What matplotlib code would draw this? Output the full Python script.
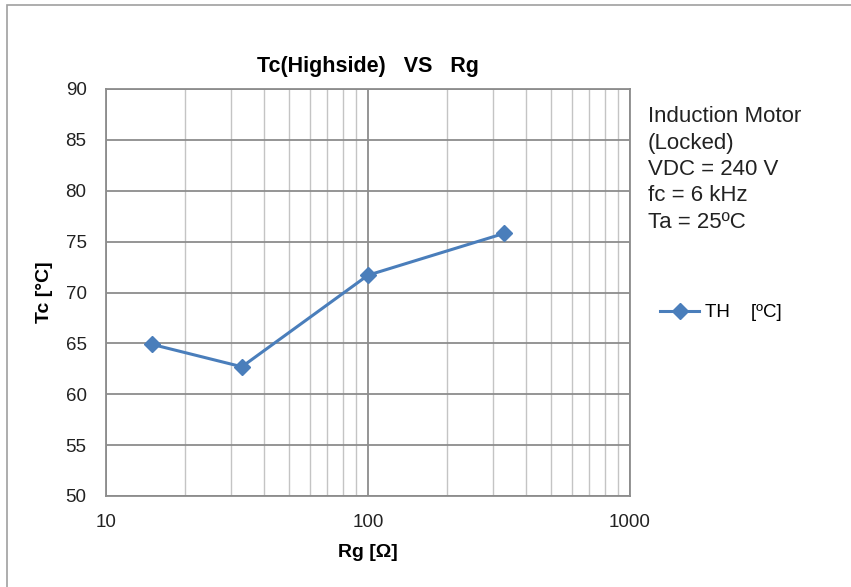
import matplotlib
matplotlib.use("Agg")
import matplotlib.pyplot as plt
from matplotlib.patches import Rectangle
from matplotlib.ticker import FixedLocator, NullFormatter

# data
rg = [15, 33, 100, 330]
tc = [64.9, 62.7, 71.7, 75.8]
x_ticks = [10, 100, 1000]
y_ticks = [50, 55, 60, 65, 70, 75, 80, 85, 90]
notes = ["Induction Motor", "(Locked)", "VDC = 240 V", "fc = 6 kHz", "Ta = 25ºC"]

plt.rcParams['font.family'] = ['Liberation Sans', 'DejaVu Sans']

fig = plt.figure(figsize=(8.51, 5.87), dpi=100)
ax = fig.add_axes([106 / 851, 1 - 496 / 587, 524 / 851, 407 / 587])

# outer chart frame
fig.patches.append(Rectangle((7 / 851, -0.1), 1.1, 1 - 5 / 587 + 0.1,
                             transform=fig.transFigure, fill=False,
                             edgecolor='#a0a0a0', linewidth=1.2))

ax.set_xscale('log')
ax.set_xlim(10, 1000)
ax.set_ylim(50, 90)
ax.set_xticks(x_ticks)
ax.set_xticklabels([str(t) for t in x_ticks])
ax.xaxis.set_minor_locator(FixedLocator([m * d for d in (10, 100) for m in range(2, 10)]))
ax.xaxis.set_minor_formatter(NullFormatter())
ax.set_yticks(y_ticks)

ax.grid(which='major', color='#8c8c8c', linewidth=1.3)
ax.grid(which='minor', axis='x', color='#c4c4c4', linewidth=1.0)
ax.set_axisbelow(True)
for s in ax.spines.values():
    s.set_color('#8c8c8c')
    s.set_linewidth(1.3)
ax.tick_params(which='both', length=0, labelsize=13.5, colors='#222222')
ax.tick_params(axis='x', pad=13)
ax.tick_params(axis='y', pad=14)

ax.plot(rg, tc, color='#4a7ebb', linewidth=2.2, marker='D', markersize=8,
        label='TH    [ºC]')

ax.set_title('Tc(Highside)   VS   Rg', fontsize=15.5, fontweight='bold', pad=12)
ax.set_xlabel('Rg [Ω]', fontsize=14, fontweight='bold', labelpad=9)
ax.set_ylabel('Tc [°C]', fontsize=14, fontweight='bold', labelpad=9)

for i, line in enumerate(notes):
    fig.text(648 / 851, 1 - (117 + i * 26.3) / 587, line, fontsize=16,
             color='#222222', va='center')

leg = ax.legend(loc='center left', bbox_to_anchor=(1.025, 0.45), frameon=False,
                fontsize=13.5, handlelength=2.1, handletextpad=0.3)

fig.savefig('out.png', dpi=100)
